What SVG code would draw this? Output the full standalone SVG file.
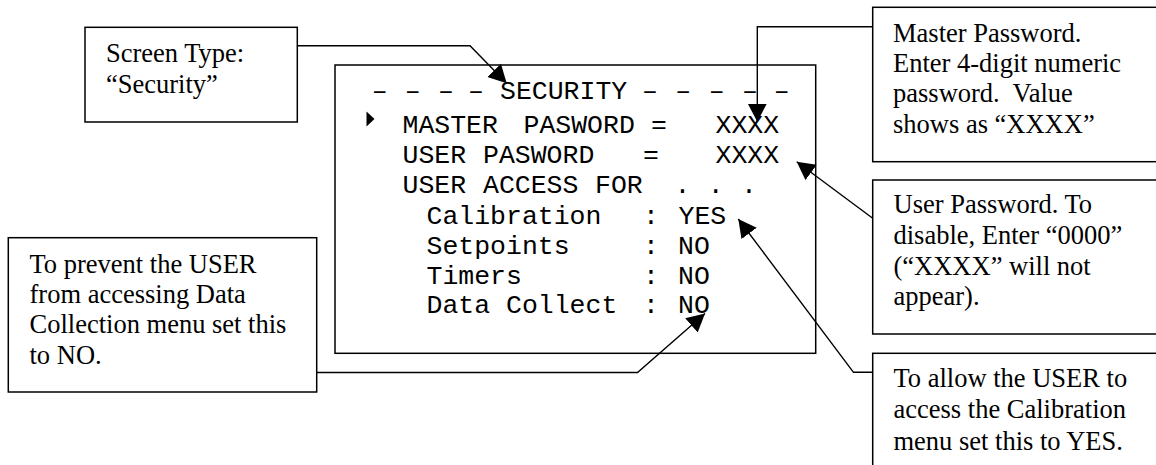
<svg xmlns="http://www.w3.org/2000/svg" width="1156" height="465" viewBox="0 0 1156 465">
<style>
.box{fill:#fff;stroke:#000;stroke-width:1.5}
.t{font-family:"Liberation Serif","Times New Roman",serif;font-size:26.5px;fill:#000}
.m{font-family:"Liberation Mono","Courier New",monospace;font-size:26.5px;fill:#000}
.c{fill:none;stroke:#000;stroke-width:1.4}
</style>
<defs>
<marker id="ah" markerUnits="userSpaceOnUse" markerWidth="20" markerHeight="20" refX="18" refY="9.5" orient="auto">
<path d="M0,0 L18,9.5 L0,19 z" fill="#000"/>
</marker>
</defs>
<rect width="1156" height="465" fill="#fff"/>

<g id="panel">
<rect class="box" x="335" y="65" width="480.7" height="288.3"/>
<g class="m" text-anchor="middle">
<text x="379.7" y="99">–</text><text x="412.7" y="99">–</text><text x="446" y="99">–</text><text x="476" y="99">–</text>
<text x="650" y="99">–</text><text x="683.3" y="99">–</text><text x="716.7" y="99">–</text><text x="750" y="99">–</text><text x="781.7" y="99">–</text>
</g>
<text class="m" x="500" y="99">SECURITY</text>
<polygon points="366.5,111.5 374.5,119 366.5,126.5" fill="#000"/>
<text class="m" x="402.5" y="133.3">MASTER</text>
<text class="m" x="523.5" y="133.3">PASWORD</text>
<text class="m" x="651" y="133.3">=</text>
<text class="m" x="715.5" y="133.3">XXXX</text>
<text class="m" x="402.5" y="163.3">USER</text>
<text class="m" x="483" y="163.3">PASWORD</text>
<text class="m" x="643" y="163.3">=</text>
<text class="m" x="715.5" y="163.3">XXXX</text>
<text class="m" x="402.5" y="193.3">USER</text>
<text class="m" x="483" y="193.3">ACCESS</text>
<text class="m" x="595" y="193.3">FOR</text>
<g class="m" text-anchor="middle">
<text x="682.5" y="193.3">.</text><text x="715.8" y="193.3">.</text><text x="749" y="193.3">.</text>
</g>
<text class="m" x="426.5" y="224">Calibration</text>
<text class="m" x="426.5" y="254">Setpoints</text>
<text class="m" x="426.5" y="283.5">Timers</text>
<text class="m" x="426.5" y="312.5">Data Collect</text>
<g class="m" text-anchor="middle">
<text x="651" y="224">:</text><text x="651" y="254">:</text><text x="651" y="283.5">:</text><text x="651" y="312.5">:</text>
</g>
<text class="m" x="678.5" y="224">YES</text>
<text class="m" x="678" y="254">NO</text>
<text class="m" x="678" y="283.5">NO</text>
<text class="m" x="678" y="312.5">NO</text>
</g>

<g id="screen-type">
<rect class="box" x="85" y="27.3" width="212.3" height="94.7"/>
<text class="t" x="106" y="61.5">Screen Type:</text>
<text class="t" x="106" y="92.5">“Security”</text>
</g>

<g id="master-note">
<rect class="box" x="872.7" y="7.3" width="300" height="154.4"/>
<text class="t" x="893" y="41.7">Master Password.</text>
<text class="t" x="893" y="71.7">Enter 4-digit numeric</text>
<text class="t" x="893" y="102" xml:space="preserve">password.  Value</text>
<text class="t" x="893" y="133" xml:space="preserve">shows as “XXXX”</text>
</g>

<g id="user-note">
<rect class="box" x="872.7" y="180" width="300" height="154"/>
<text class="t" x="893.5" y="213.3">User Password. To</text>
<text class="t" x="893.5" y="243.8">disable, Enter “0000”</text>
<text class="t" x="893.5" y="274.5">(“XXXX” will not</text>
<text class="t" x="893.5" y="305">appear).</text>
</g>

<g id="calibration-note">
<rect class="box" x="872.7" y="353.3" width="300" height="130"/>
<text class="t" x="893.5" y="387">To allow the USER to</text>
<text class="t" x="893.5" y="418.3">access the Calibration</text>
<text class="t" x="893.5" y="449.5">menu set this to YES.</text>
</g>

<g id="data-note">
<rect class="box" x="8.3" y="237.7" width="308.4" height="154.3"/>
<text class="t" x="29.5" y="272.5">To prevent the USER</text>
<text class="t" x="29.5" y="303">from accessing Data</text>
<text class="t" x="29.5" y="333.3">Collection menu set this</text>
<text class="t" x="29.5" y="364">to NO.</text>
</g>

<g id="connectors">
<polyline class="c" points="297.3,45.7 470,45.7 506.7,83.3" marker-end="url(#ah)"/>
<polyline class="c" points="872.7,26.7 757.3,26.7 757.3,121.7" marker-end="url(#ah)"/>
<polyline class="c" points="872.7,218.3 796.7,161.7" marker-end="url(#ah)"/>
<polyline class="c" points="872.7,372.3 853.5,372.3 738.3,219" marker-end="url(#ah)"/>
<polyline class="c" points="316.7,372.5 637.5,372.5 705,313.5" marker-end="url(#ah)"/>
</g>
</svg>
